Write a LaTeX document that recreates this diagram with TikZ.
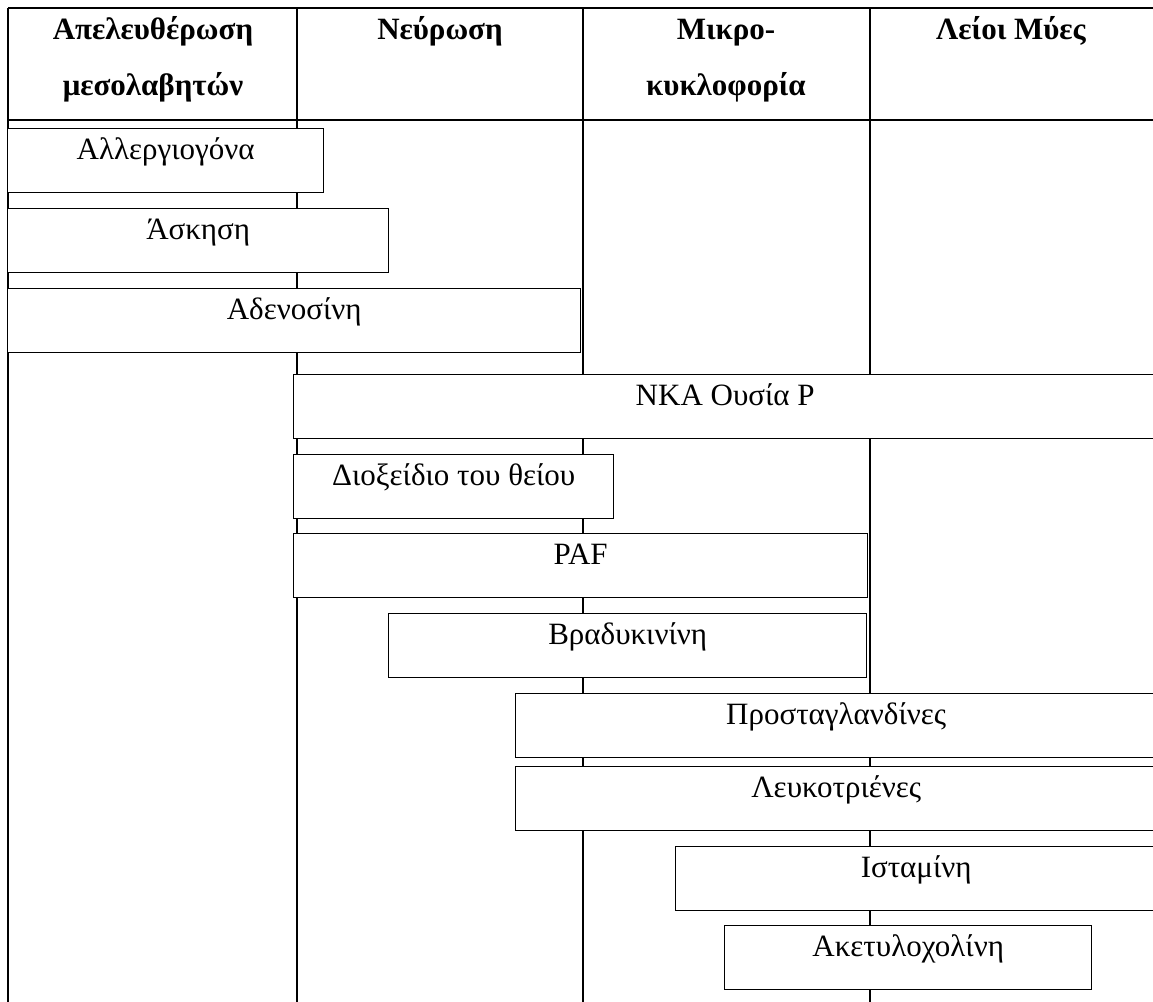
\documentclass[tikz,border=0pt]{standalone}
\usepackage{fontspec}
\setmainfont{Liberation Serif}
\tikzset{
  tabline/.style={line width=1.8pt},
  med/.style={draw, line width=1.4pt, fill=white, rectangle, anchor=north west,
    inner xsep=0pt, inner ysep=5pt, text height=26pt, text depth=28pt,
    font=\fontsize{31}{37}\selectfont},
  head/.style={anchor=base, font=\bfseries\fontsize{31}{37}\selectfont, inner sep=0pt}
}
\begin{document}
\begin{tikzpicture}[x=1pt,y=-1pt]
\useasboundingbox (0,0) rectangle (1153,1001);
\clip (0,0) rectangle (1153,1001);
\fill[white] (0,0) rectangle (1153,1001);
% table grid
\draw[tabline] (8,8) -- (1165,8);
\draw[tabline] (8,120) -- (1165,120);
\draw[tabline] (8,8) -- (8,1010);
\draw[tabline] (297,8) -- (297,1010);
\draw[tabline] (583,8) -- (583,1010);
\draw[tabline] (870,8) -- (870,1010);
% headers
\node[head] (h1a) at (153,39) {Απελευθέρωση};
\node[head] (h1b) at (153,95) {μεσολαβητών};
\node[head] (h2) at (440,39) {Νεύρωση};
\node[head] (h3a) at (726,39) {Μικρο-};
\node[head] (h3b) at (726,95) {κυκλοφορία};
\node[head] (h4) at (1011,39) {Λείοι Μύες};
% mediator boxes
\node[med, minimum width=316pt] (allerg) at (7,128) {Αλλεργιογόνα};
\node[med, minimum width=381pt] (askisi) at (7,208) {Άσκηση};
\node[med, minimum width=573pt] (adenos) at (7,288) {Αδενοσίνη};
\node[med, minimum width=863pt] (nka) at (293,374) {NKA Ουσία P};
\node[med, minimum width=320pt] (dioxid) at (293,454) {Διοξείδιο του θείου};
\node[med, minimum width=574pt] (paf) at (293,533) {PAF};
\node[med, minimum width=478pt] (vrad) at (388,613) {Βραδυκινίνη};
\node[med, minimum width=641pt] (prost) at (515,693) {Προσταγλανδίνες};
\node[med, minimum width=641pt] (leuk) at (515,766) {Λευκοτριένες};
\node[med, minimum width=481pt] (istam) at (675,846) {Ισταμίνη};
\node[med, minimum width=367pt] (aket) at (724,925) {Ακετυλοχολίνη};
\end{tikzpicture}
\end{document}
